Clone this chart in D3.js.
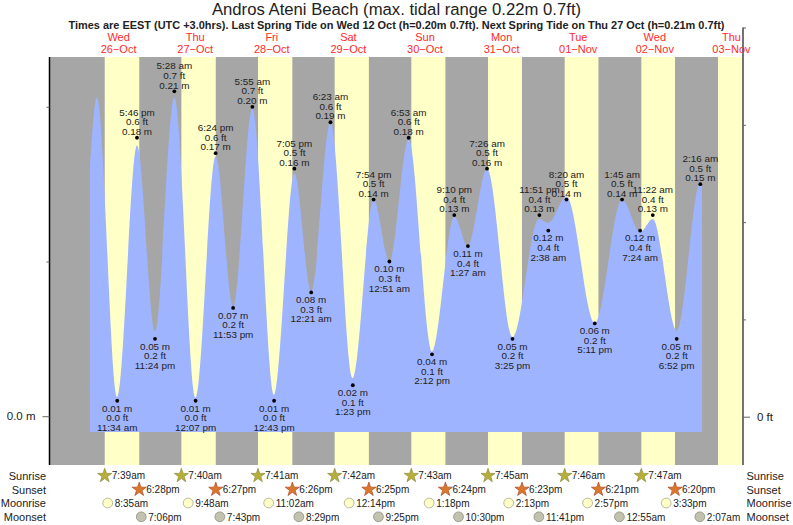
<!DOCTYPE html>
<html>
<head>
<meta charset="utf-8">
<script src="https://cdn.jsdelivr.net/npm/d3@7"></script>
<style>
  html, body { margin: 0; padding: 0; background: #fff; }
  svg { display: block; }
  text { font-family: "Liberation Sans", Arial, sans-serif; fill: #222; }
</style>
</head>
<body>
<svg id="chart" width="793" height="525"></svg>
<script>
const title = "Andros Ateni Beach (max. tidal range 0.22m 0.7ft)";
const subtitle = "Times are EEST (UTC +3.0hrs). Last Spring Tide on Wed 12 Oct (h=0.20m 0.7ft). Next Spring Tide on Thu 27 Oct (h=0.21m 0.7ft)";

const dayNames = ["Wed", "Thu", "Fri", "Sat", "Sun", "Mon", "Tue", "Wed", "Thu"];
const dayDates = ["2022-10-26", "2022-10-27", "2022-10-28", "2022-10-29", "2022-10-30", "2022-10-31", "2022-11-01", "2022-11-02", "2022-11-03"];
const dayLabels = ["26−Oct", "27−Oct", "28−Oct", "29−Oct", "30−Oct", "31−Oct", "01−Nov", "02−Nov", "03−Nov"];

// sun times, one per day; the last sunrise/sunset only shades the final band
const sunrises = ["07:39", "07:40", "07:41", "07:42", "07:43", "07:45", "07:46", "07:47", "07:48"];
const sunsets = ["18:28", "18:27", "18:26", "18:25", "18:24", "18:23", "18:21", "18:20", "18:19"];
const moonrises = ["2022-10-26 08:35", "2022-10-27 09:48", "2022-10-28 11:02", "2022-10-29 12:14", "2022-10-30 13:18", "2022-10-31 14:13", "2022-11-01 14:57", "2022-11-02 15:33"];
const moonsets = ["2022-10-26 19:06", "2022-10-27 19:43", "2022-10-28 20:29", "2022-10-29 21:25", "2022-10-30 22:30", "2022-10-31 23:41", "2022-11-02 00:55", "2022-11-03 02:07"];

// labelled highs and lows
const tideTimes = [
  "2022-10-26 11:34", "2022-10-26 17:46", "2022-10-26 23:24",
  "2022-10-27 05:28", "2022-10-27 12:07", "2022-10-27 18:24", "2022-10-27 23:53",
  "2022-10-28 05:55", "2022-10-28 12:43", "2022-10-28 19:05",
  "2022-10-29 00:21", "2022-10-29 06:23", "2022-10-29 13:23", "2022-10-29 19:54",
  "2022-10-30 00:51", "2022-10-30 06:53", "2022-10-30 14:12", "2022-10-30 21:10",
  "2022-10-31 01:27", "2022-10-31 07:26", "2022-10-31 15:25", "2022-10-31 23:51",
  "2022-11-01 02:38", "2022-11-01 08:20", "2022-11-01 17:11",
  "2022-11-02 01:45", "2022-11-02 07:24", "2022-11-02 11:22", "2022-11-02 18:52",
  "2022-11-03 02:16"
];
const tideMetres = [0.01, 0.18, 0.05, 0.21, 0.01, 0.17, 0.07, 0.20, 0.01, 0.16, 0.08, 0.19, 0.02, 0.14, 0.10, 0.18, 0.04, 0.13, 0.11, 0.16, 0.05, 0.13, 0.12, 0.14, 0.06, 0.14, 0.12, 0.13, 0.05, 0.15];
const tideFeet = [0.0, 0.6, 0.2, 0.7, 0.0, 0.6, 0.2, 0.7, 0.0, 0.5, 0.3, 0.6, 0.1, 0.5, 0.3, 0.6, 0.1, 0.4, 0.4, 0.5, 0.2, 0.4, 0.4, 0.5, 0.2, 0.5, 0.4, 0.4, 0.2, 0.5];

// turning points of the drawn curve, as they sit in the picture
const curveTimes = [
  "2022-10-26 03:03", "2022-10-26 05:12", "2022-10-26 11:34", "2022-10-26 17:46", "2022-10-26 23:24",
  "2022-10-27 05:28", "2022-10-27 12:07", "2022-10-27 18:24", "2022-10-27 23:53",
  "2022-10-28 05:55", "2022-10-28 12:43", "2022-10-28 19:05",
  "2022-10-29 00:21", "2022-10-29 06:23", "2022-10-29 13:23", "2022-10-29 19:54",
  "2022-10-30 00:51", "2022-10-30 06:53", "2022-10-30 14:12", "2022-10-30 21:10",
  "2022-10-31 01:27", "2022-10-31 07:26", "2022-10-31 15:25", "2022-10-31 23:40",
  "2022-11-01 02:38", "2022-11-01 08:20", "2022-11-01 17:11",
  "2022-11-02 01:45", "2022-11-02 07:24", "2022-11-02 11:22", "2022-11-02 18:52",
  "2022-11-03 02:16", "2022-11-03 02:46"
];
const curveHeights = [0.162, 0.206, 0.0126, 0.175, 0.055, 0.206, 0.012, 0.168, 0.071, 0.199, 0.0137, 0.157, 0.0805, 0.19, 0.0247, 0.14, 0.10, 0.179, 0.0417, 0.129, 0.11, 0.16, 0.051, 0.1275, 0.125, 0.142, 0.06, 0.14, 0.119, 0.1275, 0.0553, 0.151, 0.150];

const metreTicks = [0, 0.1, 0.2];
const feetTicks = [0, 0.2, 0.4, 0.6, 0.8];

const plot = { left: 49.5, right: 743, top: 57, bottom: 465, tideBottom: 432 };
const colors = { night: "#a6a6a6", day: "#ffffc8", tide: "#9fb4ff", dayLabel: "#ff2a2a" };

const parseStamp = d3.utcParse("%Y-%m-%d %H:%M");
const formatTide = d3.utcFormat("%-I:%M %p");
const formatShort = d3.utcFormat("%-I:%M%p");
const lower = (s) => s.toLowerCase();

const x = d3.scaleUtc()
  .domain([parseStamp("2022-10-26 00:00"), parseStamp("2022-11-03 00:00")])
  .range([80.3, 693.1]);
const y = d3.scaleLinear().domain([0, 0.2]).range([416.2, 106.8]);
const yFeet = d3.scaleLinear().domain([0, 0.8]).range([416.7, 27.5]);

const svg = d3.select("#chart");

// backdrop: night first, then one yellow band per day
svg.append("rect")
  .attr("x", plot.left).attr("y", plot.top)
  .attr("width", plot.right - plot.left).attr("height", plot.bottom - plot.top)
  .attr("fill", colors.night);

svg.append("clipPath").attr("id", "plot-clip")
  .append("rect")
  .attr("x", plot.left).attr("y", plot.top)
  .attr("width", plot.right - plot.left).attr("height", plot.bottom - plot.top);

svg.append("g")
  .attr("clip-path", "url(#plot-clip)")
  .selectAll("rect")
  .data(dayDates)
  .join("rect")
  .attr("x", (d, i) => x(parseStamp(d + " " + sunrises[i])))
  .attr("y", plot.top)
  .attr("width", (d, i) => x(parseStamp(d + " " + sunsets[i])) - x(parseStamp(d + " " + sunrises[i])))
  .attr("height", plot.bottom - plot.top)
  .attr("fill", colors.day);

// tide
const curvePoints = curveTimes.map((t, i) => ({ t: parseStamp(t), h: curveHeights[i] }));
const area = d3.area()
  .x((d) => x(d.t))
  .y0(plot.tideBottom)
  .y1((d) => y(d.h))
  .curve(d3.curveMonotoneX);

svg.append("path")
  .datum(curvePoints)
  .attr("d", area)
  .attr("fill", colors.tide);

// axes: only the zero tick is long and labelled
const leftAxis = svg.append("g")
  .attr("transform", `translate(${plot.left},0)`)
  .call(d3.axisLeft(y).tickValues(metreTicks).tickSize(3).tickFormat((d) => (d === 0 ? "0.0 m" : "")));
leftAxis.select(".domain").attr("d", `M0,${plot.top}V${plot.bottom}`).attr("stroke", "#000").attr("stroke-width", 1.5);
leftAxis.selectAll(".tick line").attr("stroke", "#666").attr("x2", (d) => (d === 0 ? -7 : -3));
leftAxis.selectAll("text").attr("font-size", 11.5).attr("x", -14).attr("fill", "#222");

const rightAxis = svg.append("g")
  .attr("transform", `translate(${plot.right},0)`)
  .call(d3.axisRight(yFeet).tickValues(feetTicks).tickSize(3).tickFormat((d) => (d === 0 ? "0 ft" : "")));
rightAxis.select(".domain").attr("d", `M0,${yFeet(0.8)}V${plot.bottom}`).attr("stroke", "#444").attr("stroke-width", 1.5);
rightAxis.selectAll(".tick line").attr("stroke", "#666").attr("x2", (d) => (d === 0 ? 7 : 3));
rightAxis.selectAll("text").attr("font-size", 11.5).attr("x", 14).attr("fill", "#222");

// heading
svg.append("text").attr("x", 396.5).attr("y", 15)
  .attr("text-anchor", "middle").attr("font-size", 16.7).text(title);
svg.append("text").attr("x", 396.5).attr("y", 28.7)
  .attr("text-anchor", "middle").attr("font-size", 10.95).attr("font-weight", "bold").text(subtitle);

const dayHeads = svg.append("g").attr("text-anchor", "middle").attr("font-size", 11);
const noon = (d) => x(parseStamp(d + " 12:00"));
dayHeads.selectAll(".day-name").data(dayDates).join("text")
  .attr("class", "day-name")
  .attr("x", noon).attr("y", 41)
  .style("fill", colors.dayLabel)
  .text((d, i) => dayNames[i]);
dayHeads.selectAll(".day-date").data(dayDates).join("text")
  .attr("class", "day-date")
  .attr("x", noon).attr("y", 52.7)
  .style("fill", colors.dayLabel)
  .text((d, i) => dayLabels[i]);

// high and low labels: highs read time, ft, m downwards; lows read m, ft, time
const tides = tideTimes.map((t, i) => ({
  t: parseStamp(t),
  m: tideMetres[i],
  ft: tideFeet[i],
  high: i > 0 && tideMetres[i] > tideMetres[i - 1]
}));

const tideMarks = svg.append("g").selectAll("g").data(tides).join("g")
  .attr("transform", (d) => `translate(${x(d.t)},${y(d.m)})`);
tideMarks.append("circle").attr("r", 1.9).attr("fill", "#000");

const tideText = (offsetHigh, offsetLow, label) => tideMarks.append("text")
  .attr("text-anchor", "middle")
  .attr("font-size", 9.9)
  .attr("y", (d) => (d.high ? offsetHigh : offsetLow))
  .text(label);

tideText(-22, 30, (d) => lower(formatTide(d.t)));
tideText(-12.5, 20.5, (d) => d.ft.toFixed(1) + " ft");
tideText(-2.8, 10.8, (d) => d.m.toFixed(2) + " m");

// almanac rows
const rowY = { sunrise: 475.7, sunset: 489.5, moonrise: 503, moonset: 516.8 };
const rowLabels = [["Sunrise", rowY.sunrise], ["Sunset", rowY.sunset], ["Moonrise", rowY.moonrise], ["Moonset", rowY.moonset]];

svg.append("g").attr("font-size", 11).selectAll("text").data(rowLabels).join("text")
  .attr("x", 46).attr("y", (d) => d[1] + 4).attr("text-anchor", "end").text((d) => d[0]);
svg.append("g").attr("font-size", 11).selectAll("text").data(rowLabels).join("text")
  .attr("x", 746.5).attr("y", (d) => d[1] + 4).text((d) => d[0]);

const star = d3.symbol(d3.symbolStar, 62);

function almanacRow(stamps, rowCy, drawMark) {
  const g = svg.append("g").selectAll("g").data(stamps.map(parseStamp)).join("g")
    .attr("transform", (d) => `translate(${x(d)},${rowCy})`);
  drawMark(g);
  g.append("text").attr("x", 7).attr("y", 3.7).attr("font-size", 10)
    .text((d) => lower(formatShort(d)));
}

// a star with a filled core, closer to the fat pentagon look of the original
const sunMark = (fill, edge) => (g) => {
  g.append("path").attr("d", star).attr("fill", fill).attr("stroke", edge).attr("stroke-width", 0.7);
  g.append("circle").attr("r", 3.4).attr("fill", fill);
};
const moonMark = (fill, edge) => (g) => g.append("circle").attr("r", 4.9)
  .attr("fill", fill).attr("stroke", edge).attr("stroke-width", 0.8);

const sunStamps = (times) => times.slice(0, 8).map((t, i) => dayDates[i] + " " + t);

almanacRow(sunStamps(sunrises), rowY.sunrise, sunMark("#b5ad3c", "#8a8a40"));
almanacRow(sunStamps(sunsets), rowY.sunset, sunMark("#d9772e", "#a8482a"));
almanacRow(moonrises, rowY.moonrise, moonMark("#ffffc8", "#a8a890"));
almanacRow(moonsets, rowY.moonset, moonMark("#c2c2ae", "#8e8e80"));
</script>
</body>
</html>
